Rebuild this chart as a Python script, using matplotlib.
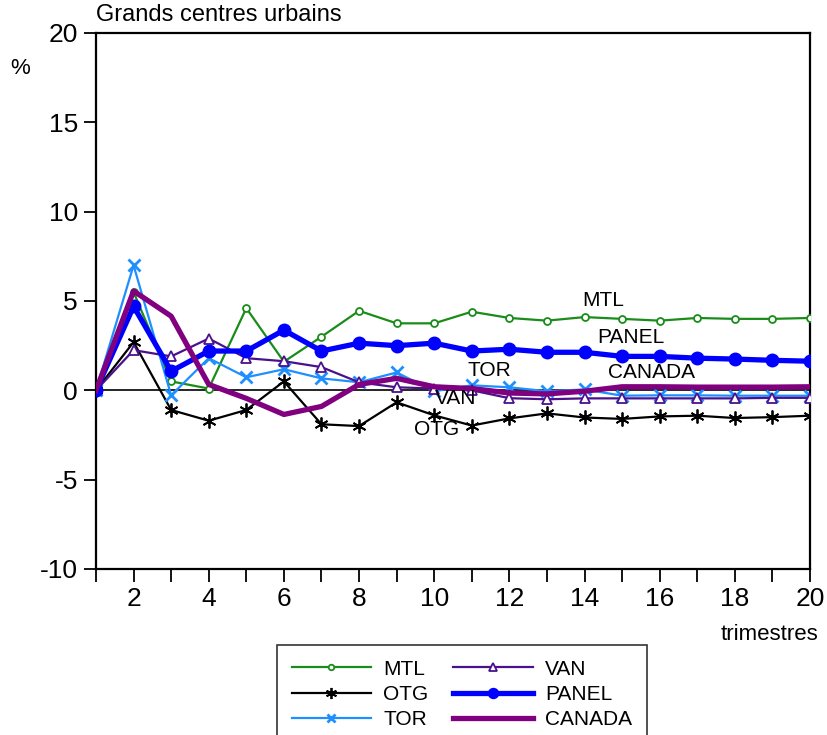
import numpy as np
import matplotlib.pyplot as plt

plt.rcParams['font.family'] = ['Liberation Sans', 'DejaVu Sans']
plt.rcParams['axes.unicode_minus'] = False

# Donnees
trimestres = list(range(1, 21))
mtl = [0, 5.5, 0.5, 0.1, 4.6, 1.6, 3.0, 4.45, 3.75, 3.75,
       4.4, 4.05, 3.9, 4.1, 4.0, 3.9, 4.05, 4.0, 4.0, 4.05]
otg = [0, 2.7, -1.1, -1.7, -1.1, 0.5, -1.9, -2.0, -0.67, -1.4,
       -1.97, -1.57, -1.29, -1.52, -1.6, -1.46, -1.42, -1.55, -1.5, -1.42]
tor = [0, 7.0, -0.28, 1.8, 0.73, 1.18, 0.67, 0.45, 1.0, -0.05,
       0.28, 0.17, -0.05, 0.05, -0.3, -0.28, -0.28, -0.3, -0.3, -0.3]
van = [0, 2.25, 1.9, 2.9, 1.8, 1.63, 1.3, 0.45, 0.17, 0.1,
       0.0, -0.44, -0.5, -0.45, -0.45, -0.45, -0.45, -0.45, -0.42, -0.42]
panel = [0, 4.7, 1.07, 2.2, 2.2, 3.37, 2.2, 2.64, 2.5, 2.64,
         2.2, 2.3, 2.13, 2.13, 1.9, 1.9, 1.8, 1.75, 1.68, 1.63]
canada = [0, 5.56, 4.15, 0.33, -0.45, -1.35, -0.9, 0.33, 0.67, 0.2,
          0.1, -0.15, -0.2, -0.05, 0.2, 0.2, 0.18, 0.18, 0.18, 0.2]

# etiquettes dans le graphique: (texte, x, y)
etiquettes = [("MTL", 14.5, 5.0), ("PANEL", 15.24, 2.94), ("TOR", 11.48, 1.1),
              ("CANADA", 15.77, 1.0), ("VAN", 10.58, -0.43), ("OTG", 10.07, -2.2)]

fig = plt.figure(figsize=(8.28, 7.35), dpi=100)
ax = fig.add_axes([96/828, 1 - 569/735, 714/828, 536/735])

ax.axhline(0, color='black', lw=1.2, zorder=1)

ax.plot(trimestres, mtl, color='#1a8c1a', lw=1.6, marker='o', ms=5,
        mfc='white', mec='#1a8c1a', mew=1.3, label='MTL', zorder=3)
ax.plot(trimestres, otg, color='black', lw=1.6, marker=(6, 2, 0), ms=10,
        mew=1.3, label='OTG', zorder=3)
ax.plot(trimestres, tor, color='#1e8fff', lw=1.6, marker='x', ms=8,
        mew=2, label='TOR', zorder=3)
ax.plot(trimestres, van, color='#4b108c', lw=1.6, marker='^', ms=7,
        mfc='white', mec='#4b108c', mew=1.3, label='VAN', zorder=3)
ax.plot(trimestres, panel, color='#0000ff', lw=3.8, marker='o', ms=9,
        label='PANEL', zorder=4)
ax.plot(trimestres, canada, color='#800080', lw=3.8, label='CANADA', zorder=5)

for txt, x, y in etiquettes:
    ax.text(x, y, txt, fontsize=15, ha='center', va='center', zorder=6)

ax.set_xlim(1, 20)
ax.set_ylim(-10, 20)
ax.set_xticks(range(1, 21))
ax.set_xticklabels([str(t) if t % 2 == 0 else '' for t in trimestres])
ax.set_yticks([-10, -5, 0, 5, 10, 15, 20])
ax.tick_params(direction='out', length=9, width=1.3, labelsize=19, pad=4)
for s in ax.spines.values():
    s.set_linewidth(1.6)

fig.text(96/828, 1 - 15/735, "Grands centres urbains", fontsize=17,
         ha='left', va='center')
fig.text(20/828, 1 - 68/735, "%", fontsize=16, ha='center', va='center')
fig.text(770/828, 1 - 634/735, "trimestres", fontsize=16,
         ha='center', va='center')

leg = fig.legend(loc='upper left', bbox_to_anchor=(277/828, 1 - 645/735),
                 ncol=2, fontsize=15, frameon=True, fancybox=False,
                 edgecolor='black', handlelength=3.8, labelspacing=0.3,
                 handletextpad=0.6, columnspacing=1.2, borderpad=0.7,
                 borderaxespad=0, markerscale=0.8)
leg.get_frame().set_linewidth(1.2)

fig.savefig('out.png', dpi=100)
